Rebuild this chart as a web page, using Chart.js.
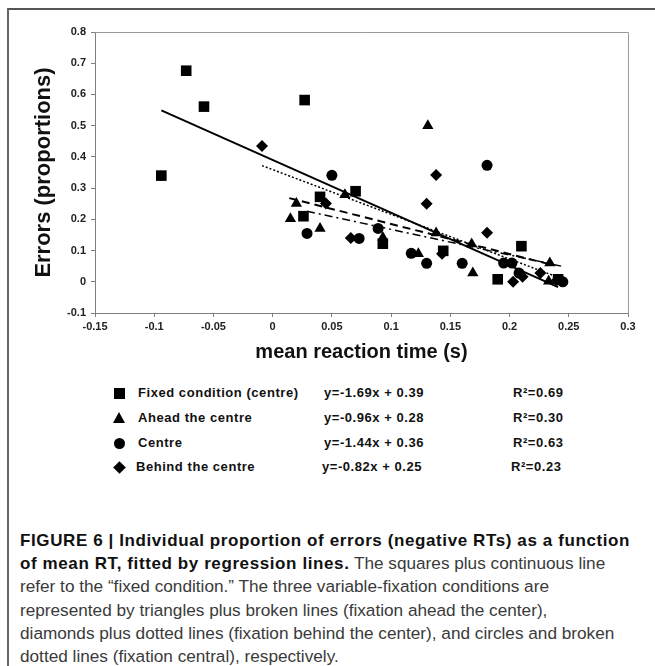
<!DOCTYPE html>
<html>
<head>
<meta charset="utf-8">
<script src="https://cdn.jsdelivr.net/npm/chart.js@4"></script>
<style>
  html, body { margin: 0; padding: 0; background: #fff; }
  body { width: 655px; height: 666px; position: relative; overflow: hidden; font-family: "Liberation Sans", Arial, sans-serif; }
  #frame { position: absolute; left: 7px; top: 8px; width: 660px; height: 670px; border-left: 2px solid #666; border-top: 2px solid #555; }
  #plot { position: absolute; left: 0; top: 0; }
  .row { position: absolute; font-size: 13px; letter-spacing: 0.55px; font-weight: bold; color: #111; line-height: 14px; white-space: nowrap; }
  .mk { position: absolute; }
  .sq { width: 11px; height: 11px; background: #000; }
  .tri { width: 0; height: 0; border-left: 6px solid transparent; border-right: 6px solid transparent; border-bottom: 11px solid #000; }
  .cir { width: 11px; height: 11px; border-radius: 50%; background: #000; }
  .dia { width: 9px; height: 9px; background: #000; transform: rotate(45deg); }
  .cap { position: absolute; left: 20px; font-size: 17.2px; line-height: 23px; color: #3a3a3a; white-space: nowrap; }
  .cap b { color: #111; font-size: 17px; letter-spacing: 0.6px; }
</style>
</head>
<body>
<div id="frame"></div>
<canvas id="plot" width="655" height="372"></canvas>
<div id="legend"></div>
<div id="caption"></div>
<script>
// points
const fixedX = [-0.094, -0.073, -0.058, 0.027, 0.040, 0.026, 0.070, 0.093, 0.144, 0.190, 0.210, 0.241];
const fixedY = [0.340, 0.676, 0.561, 0.582, 0.272, 0.210, 0.290, 0.122, 0.099, 0.008, 0.114, 0.008];

const aheadX = [0.015, 0.020, 0.040, 0.061, 0.093, 0.123, 0.131, 0.138, 0.168, 0.169, 0.234, 0.233];
const aheadY = [0.202, 0.251, 0.171, 0.279, 0.142, 0.090, 0.500, 0.156, 0.121, 0.028, 0.060, 0.002];

const centreX = [0.029, 0.050, 0.073, 0.089, 0.117, 0.130, 0.160, 0.181, 0.195, 0.202, 0.208, 0.245];
const centreY = [0.155, 0.341, 0.139, 0.171, 0.091, 0.059, 0.059, 0.373, 0.060, 0.060, 0.028, 0.000];

const behindX = [-0.009, 0.045, 0.066, 0.130, 0.138, 0.143, 0.181, 0.203, 0.211, 0.226, 0.240];
const behindY = [0.435, 0.251, 0.140, 0.250, 0.342, 0.090, 0.157, 0.000, 0.016, 0.028, 0.005];

// regression line end points
const solidX = [-0.094, 0.241];
const solidY = [0.549, -0.017];
const dottedX = [-0.009, 0.244];
const dottedY = [0.372, 0.010];
const dashedX = [0.014, 0.234];
const dashedY = [0.268, 0.056];
const dashDotX = [0.029, 0.245];
const dashDotY = [0.226, 0.049];

const xTicks = [-0.15, -0.1, -0.05, 0, 0.05, 0.1, 0.15, 0.2, 0.25, 0.3];
const xTickLabels = ['-0.15', '-0.1', '-0.05', '0', '0.05', '0.1', '0.15', '0.2', '0.25', '0.3'];
const yTicks = [-0.1, 0, 0.1, 0.2, 0.3, 0.4, 0.5, 0.6, 0.7, 0.8];
const yTickLabels = ['-0.1', '0', '0.1', '0.2', '0.3', '0.4', '0.5', '0.6', '0.7', '0.8'];

const legendNames = ['Fixed condition (centre)', 'Ahead the centre', 'Centre', 'Behind the centre'];
const legendEqs = ['y=-1.69x + 0.39', 'y=-0.96x + 0.28', 'y=-1.44x + 0.36', 'y=-0.82x + 0.25'];
const legendR2 = ['R\u00b2=0.69', 'R\u00b2=0.30', 'R\u00b2=0.63', 'R\u00b2=0.23'];

const FONT = '"Liberation Sans", Arial, sans-serif';

const pts = (xs, ys) => xs.map((x, i) => ({ x: x, y: ys[i] }));

const lineSet = (xs, ys, dash, w) => ({
    data: pts(xs, ys),
    showLine: true,
    borderColor: '#000',
    borderWidth: w,
    borderDash: dash,
    pointRadius: 0,
    fill: false
});

const pointSet = (xs, ys, style, r) => ({
    data: pts(xs, ys),
    showLine: false,
    pointStyle: style,
    pointRadius: r,
    backgroundColor: '#000',
    borderColor: '#000',
    borderWidth: 0
});

const boxPlugin = {
    id: 'box',
    beforeDatasetsDraw(chart) {
        const { ctx, chartArea } = chart;
        ctx.save();
        ctx.strokeStyle = '#999';
        ctx.lineWidth = 1;
        ctx.beginPath();
        ctx.moveTo(chartArea.left, Math.round(chartArea.top) + 0.5);
        ctx.lineTo(Math.round(chartArea.right) + 0.5, Math.round(chartArea.top) + 0.5);
        ctx.lineTo(Math.round(chartArea.right) + 0.5, chartArea.bottom);
        ctx.stroke();
        ctx.restore();
    }
};

const ctx = document.getElementById('plot').getContext('2d');
new Chart(ctx, {
    type: 'scatter',
    data: {
        datasets: [
            pointSet(fixedX, fixedY, 'rect', 7.5),
            pointSet(aheadX, aheadY, 'triangle', 6.5),
            pointSet(centreX, centreY, 'circle', 5.5),
            pointSet(behindX, behindY, 'rectRot', 6),
            lineSet(solidX, solidY, [], 2),
            lineSet(dottedX, dottedY, [2, 2], 1.5),
            lineSet(dashedX, dashedY, [8, 5], 2),
            lineSet(dashDotX, dashDotY, [8, 4, 2, 4], 1.5)
        ]
    },
    options: {
        responsive: false,
        animation: false,
        layout: { padding: { top: 32, right: 27, left: 0, bottom: 0 } },
        plugins: { legend: { display: false }, tooltip: { enabled: false } },
        scales: {
            x: {
                type: 'linear',
                min: -0.15,
                max: 0.3,
                afterBuildTicks: s => { s.ticks = xTicks.map(v => ({ value: v })); },
                afterFit: s => { s.height = 59; },
                ticks: {
                    callback: (v, i) => xTickLabels[i],
                    font: { family: FONT, size: 11, weight: 'bold' },
                    color: '#222',
                    padding: 3,
                    maxRotation: 0,
                    autoSkip: false
                },
                grid: { drawOnChartArea: false, tickLength: 4, color: '#808080' },
                border: { color: '#808080' },
                title: {
                    display: true,
                    text: 'mean reaction time (s)',
                    font: { family: FONT, size: 20, weight: 'bold' },
                    color: '#111',
                    padding: { top: 0, bottom: 8 }
                }
            },
            y: {
                type: 'linear',
                min: -0.1,
                max: 0.8,
                afterBuildTicks: s => { s.ticks = yTicks.map(v => ({ value: v })); },
                afterFit: s => { s.width = 95; },
                ticks: {
                    callback: (v, i) => yTickLabels[i],
                    font: { family: FONT, size: 11, weight: 'bold' },
                    color: '#222',
                    padding: 5,
                    autoSkip: false
                },
                grid: { drawOnChartArea: false, tickLength: 4, color: '#808080' },
                border: { color: '#808080' },
                title: {
                    display: true,
                    text: 'Errors (proportions)',
                    font: { family: FONT, size: 22, weight: 'bold' },
                    color: '#111',
                    padding: { top: 31, bottom: 0 }
                }
            }
        }
    },
    plugins: [boxPlugin]
});

// legend under the plot
const rowY = [393, 418, 443, 467];
const markCls = ['sq', 'tri', 'cir', 'dia'];
const markOff = [[113.5, -5.5], [113, -6], [113.5, -5.5], [114.5, -4.5]];
const nameX = [138, 138, 138, 136];
const eqX = [324, 324, 324, 322];
const r2X = [513, 513, 513, 511];
const legend = document.getElementById('legend');
legendNames.forEach((name, i) => {
    const m = document.createElement('div');
    m.className = 'mk ' + markCls[i];
    m.style.left = markOff[i][0] + 'px';
    m.style.top = (rowY[i] + markOff[i][1]) + 'px';
    legend.appendChild(m);
    [[name, nameX[i]], [legendEqs[i], eqX[i]], [legendR2[i], r2X[i]]].forEach(([t, x]) => {
        const d = document.createElement('div');
        d.className = 'row';
        d.textContent = t;
        d.style.left = x + 'px';
        d.style.top = (rowY[i] - 7) + 'px';
        legend.appendChild(d);
    });
});

// caption
const capLines = [
    '<b>FIGURE 6 | Individual proportion of errors (negative RTs) as a function</b>',
    '<b>of mean RT, fitted by regression lines.</b> The squares plus continuous line',
    'refer to the \u201cfixed condition.\u201d The three variable-fixation conditions are',
    'represented by triangles plus broken lines (fixation ahead the center),',
    'diamonds plus dotted lines (fixation behind the center), and circles and broken',
    'dotted lines (fixation central), respectively.'
];
const capY = [540, 563, 586.5, 610, 633, 656];
const caption = document.getElementById('caption');
capLines.forEach((html, i) => {
    const d = document.createElement('div');
    d.className = 'cap';
    d.innerHTML = html;
    d.style.top = (capY[i] - 11.5) + 'px';
    caption.appendChild(d);
});
</script>
</body>
</html>
